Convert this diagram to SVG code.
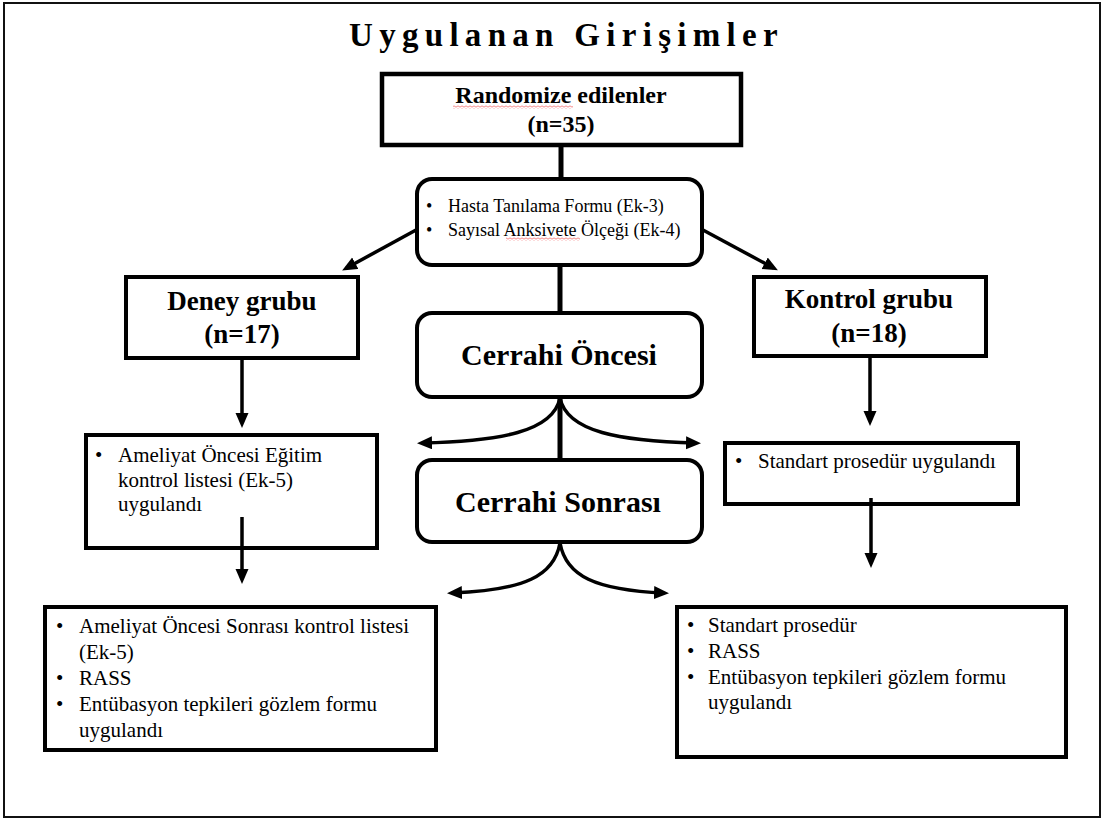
<svg xmlns="http://www.w3.org/2000/svg" width="1104" height="823" viewBox="0 0 1104 823">
<style>
.box{fill:#fff;stroke:#000;stroke-width:4}
.bt{font-family:"Liberation Serif","Times New Roman",serif;font-weight:bold;fill:#000;text-anchor:middle}
.rt{font-family:"Liberation Serif","Times New Roman",serif;fill:#000}
.con{fill:none;stroke:#000;stroke-width:3.5}
.thick{fill:none;stroke:#000;stroke-width:5}
</style>
<defs>
<marker id="ah" markerUnits="userSpaceOnUse" markerWidth="16" markerHeight="14" refX="10" refY="6.5" orient="auto">
<path d="M0,0 L15,6.5 L0,13 z" fill="#000"/>
</marker>
<pattern id="wave" width="4" height="3" patternUnits="userSpaceOnUse">
<path d="M0,2.5 L2,0.5 L4,2.5" fill="none" stroke="#e33" stroke-width="0.8"/>
</pattern>
</defs>
<rect width="1104" height="823" fill="#fff"/>
<rect x="4" y="3" width="1096" height="814" fill="none" stroke="#111" stroke-width="2"/>
<text x="349" y="46" class="rt" style="font-weight:bold;font-size:33px;letter-spacing:6.3px">Uygulanan Girişimler</text>

<g id="connectors">
<line class="thick" x1="561" y1="145" x2="561" y2="180"/>
<line class="con" x1="416" y1="230" x2="346.5" y2="268" marker-end="url(#ah)"/>
<line class="con" x1="703" y1="230" x2="773.5" y2="268" marker-end="url(#ah)"/>
<line class="thick" x1="560" y1="265" x2="560" y2="313"/>
<line class="thick" x1="560" y1="397" x2="560" y2="460"/>
<path class="con" d="M560,398 C553,432 500,441 422,443" marker-end="url(#ah)"/>
<path class="con" d="M560,398 C567,432 620,441 696,443" marker-end="url(#ah)"/>
<path class="con" d="M560,543 C554,576 525,590 452,593" marker-end="url(#ah)"/>
<path class="con" d="M560,543 C566,576 595,590 664,593" marker-end="url(#ah)"/>
<line class="con" x1="242" y1="358" x2="242" y2="423" marker-end="url(#ah)"/>
<line class="con" x1="870" y1="356" x2="870" y2="421" marker-end="url(#ah)"/>
</g>

<g id="randomize">
<rect class="box" x="382" y="74" width="359" height="71" style="stroke-width:4.5"/>
<rect x="453" y="105.5" width="120" height="3" fill="url(#wave)"/>
<text x="561" y="103" class="bt" style="font-size:24px">Randomize edilenler</text>
<text x="561" y="132" class="bt" style="font-size:24px">(n=35)</text>
</g>

<g id="hasta">
<rect class="box" x="417" y="179" width="285" height="86" rx="15"/>
<rect x="506" y="237.5" width="74" height="3" fill="url(#wave)"/>
<text x="426" y="212" class="rt" style="font-size:18px">•</text>
<text x="448" y="212" class="rt" style="font-size:18px">Hasta Tanılama Formu (Ek-3)</text>
<text x="426" y="236" class="rt" style="font-size:18px">•</text>
<text x="448" y="236" class="rt" style="font-size:18px">Sayısal Anksivete Ölçeği (Ek-4)</text>
</g>

<g id="deney">
<rect class="box" x="126" y="277" width="232" height="81"/>
<text x="242" y="310" class="bt" style="font-size:27px">Deney grubu</text>
<text x="242" y="343" class="bt" style="font-size:27px">(n=17)</text>
</g>

<g id="kontrol">
<rect class="box" x="754" y="277" width="232" height="79"/>
<text x="869" y="308" class="bt" style="font-size:27px">Kontrol grubu</text>
<text x="869" y="342" class="bt" style="font-size:27px">(n=18)</text>
</g>

<g id="oncesi">
<rect class="box" x="417" y="313" width="285" height="84" rx="15"/>
<text x="559" y="365" class="bt" style="font-size:30px">Cerrahi Öncesi</text>
</g>

<g id="sonrasi">
<rect class="box" x="417" y="460" width="285" height="82" rx="15"/>
<text x="558" y="512" class="bt" style="font-size:30px">Cerrahi Sonrası</text>
</g>

<g id="ameliyat-egitim">
<rect class="box" x="86" y="435" width="291" height="113"/>
<text x="95" y="462" class="rt" style="font-size:21px">•</text>
<text x="118" y="462" class="rt" style="font-size:21px">Ameliyat Öncesi Eğitim</text>
<text x="118" y="487" class="rt" style="font-size:21px">kontrol listesi (Ek-5)</text>
<text x="118" y="511" class="rt" style="font-size:21px">uygulandı</text>
<line class="con" x1="242" y1="517" x2="242" y2="579" marker-end="url(#ah)"/>
</g>

<g id="standart">
<rect class="box" x="725" y="443" width="293" height="61"/>
<text x="735" y="468" class="rt" style="font-size:21px">•</text>
<text x="758" y="468" class="rt" style="font-size:21px">Standart prosedür uygulandı</text>
<line class="con" x1="871" y1="498" x2="871" y2="563" marker-end="url(#ah)"/>
</g>

<g id="deney-sonrasi">
<rect class="box" x="45" y="607" width="391" height="143"/>
<text x="56" y="633" class="rt" style="font-size:21px">•</text>
<text x="79" y="633" class="rt" style="font-size:21px">Ameliyat Öncesi Sonrası kontrol listesi</text>
<text x="79" y="659" class="rt" style="font-size:21px">(Ek-5)</text>
<text x="56" y="685" class="rt" style="font-size:21px">•</text>
<text x="79" y="685" class="rt" style="font-size:21px">RASS</text>
<text x="56" y="711" class="rt" style="font-size:21px">•</text>
<text x="79" y="711" class="rt" style="font-size:21px">Entübasyon tepkileri gözlem formu</text>
<text x="79" y="737" class="rt" style="font-size:21px">uygulandı</text>
</g>

<g id="kontrol-sonrasi">
<rect class="box" x="677" y="607" width="389" height="150"/>
<text x="687" y="632" class="rt" style="font-size:21px">•</text>
<text x="708" y="632" class="rt" style="font-size:21px">Standart prosedür</text>
<text x="687" y="658" class="rt" style="font-size:21px">•</text>
<text x="708" y="658" class="rt" style="font-size:21px">RASS</text>
<text x="687" y="684" class="rt" style="font-size:21px">•</text>
<text x="708" y="684" class="rt" style="font-size:21px">Entübasyon tepkileri gözlem formu</text>
<text x="708" y="709" class="rt" style="font-size:21px">uygulandı</text>
</g>
</svg>
